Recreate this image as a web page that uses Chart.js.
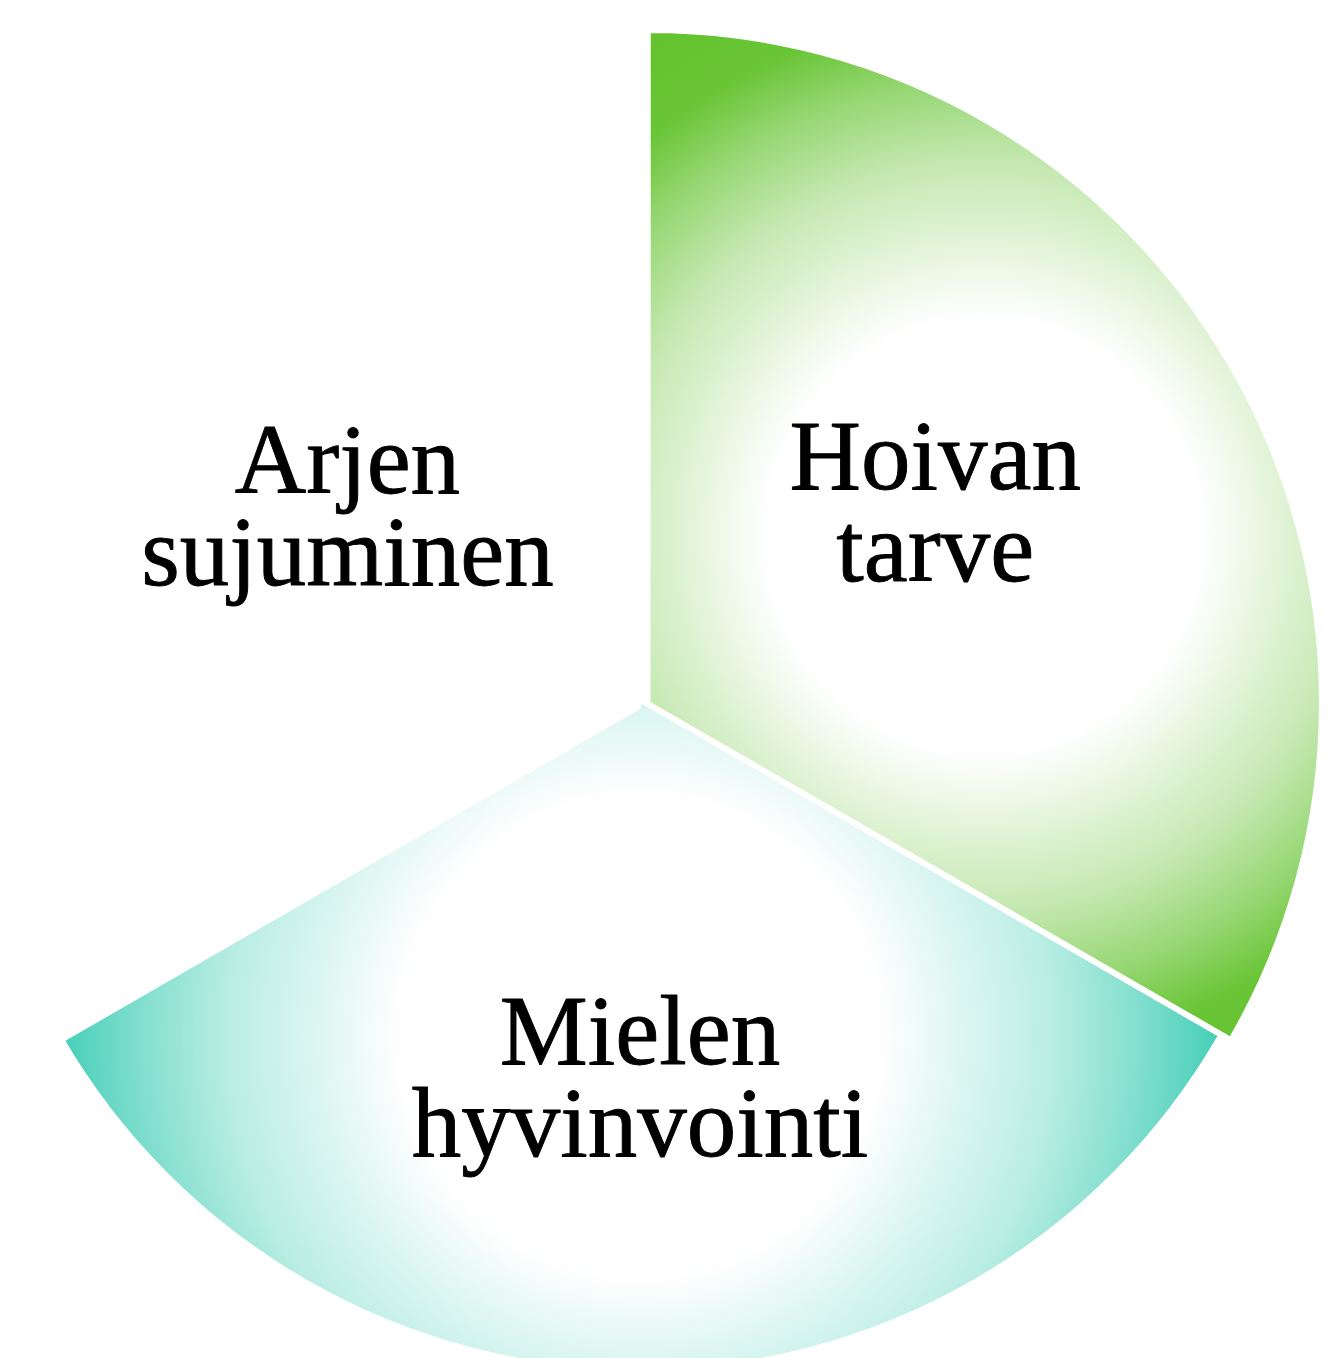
<!DOCTYPE html>
<html><head><meta charset="utf-8">
<script src="https://cdn.jsdelivr.net/npm/chart.js@4/dist/chart.umd.min.js"></script>
<style>
html,body{margin:0;padding:0;width:1337px;height:1358px;overflow:hidden;background:#fff;}
#wrap{position:absolute;left:-52px;top:16px;width:1384px;height:1384px;}
</style></head><body>
<div id="wrap"><canvas id="c"></canvas></div>
<script>
// Data
const categories = [['Hoivan', 'tarve'], ['Mielen', 'hyvinvointi'], ['Arjen', 'sujuminen']];
const values = [1, 1, 1];
const sliceColors = ['#62c22c', '#3ecdb4', '#ffffff'];

function mix(hex, t) {
  const n = parseInt(hex.slice(1), 16);
  const r = (n >> 16) & 255, g = (n >> 8) & 255, b = n & 255;
  const m = c => Math.round(255 + (c - 255) * t);
  return 'rgb(' + m(r) + ',' + m(g) + ',' + m(b) + ')';
}

function wedgeBox(x, y, R, a0, a1) {
  const pts = [[x, y], [x + R * Math.cos(a0), y + R * Math.sin(a0)], [x + R * Math.cos(a1), y + R * Math.sin(a1)]];
  for (let k = -4; k <= 8; k++) {
    const a = k * Math.PI / 2;
    if (a > a0 && a < a1) pts.push([x + R * Math.cos(a), y + R * Math.sin(a)]);
  }
  const xs = pts.map(p => p[0]), ys = pts.map(p => p[1]);
  return { x0: Math.min(...xs), x1: Math.max(...xs), y0: Math.min(...ys), y1: Math.max(...ys) };
}

const gradStops = [[0, 0], [0.36, 0], [0.5, 0.2], [0.62, 0.37], [0.75, 0.66], [0.86, 0.95], [1, 1]];

const gradientPlugin = {
  id: 'sliceGradients',
  beforeDatasetsDraw(chart) {
    const meta = chart.getDatasetMeta(0);
    const ctx = chart.ctx;
    meta.data.forEach((arc, i) => {
      const base = sliceColors[i];
      if (base.toLowerCase() === '#ffffff') return;
      const b = wedgeBox(arc.x, arc.y, arc.outerRadius, arc.startAngle, arc.endAngle);
      const gx = (b.x0 + b.x1) / 2, gy = (b.y0 + b.y1) / 2;
      const gr = Math.hypot((b.x1 - b.x0) / 2, (b.y1 - b.y0) / 2);
      const g = ctx.createRadialGradient(gx, gy, 0, gx, gy, gr);
      gradStops.forEach(s => g.addColorStop(s[0], mix(base, s[1])));
      arc.options.backgroundColor = g;
    });
  }
};

const labelPlugin = {
  id: 'sliceLabels',
  afterDatasetsDraw(chart) {
    const meta = chart.getDatasetMeta(0);
    const ctx = chart.ctx;
    const fracs = [0.5, 0.61, 0.505];
    const lh = 92;
    ctx.save();
    ctx.font = '99px "Liberation Serif"';
    ctx.fillStyle = '#000';
    ctx.strokeStyle = '#000';
    ctx.lineWidth = 0.9;
    ctx.lineJoin = 'round';
    ctx.textAlign = 'center';
    ctx.textBaseline = 'alphabetic';
    meta.data.forEach((arc, i) => {
      const half = (arc.startAngle + arc.endAngle) / 2;
      const off = (arc.options.offset || 0) / 4;
      const d = off + fracs[i] * arc.outerRadius;
      const x = arc.x + Math.cos(half) * d - (i === 0 ? 4 : 0);
      const y = arc.y + Math.sin(half) * d;
      const lines = categories[i];
      lines.forEach((t, k) => {
        const ty = y + (k - (lines.length - 1) / 2) * lh;
        ctx.fillText(t, x, ty);
        ctx.strokeText(t, x, ty);
      });
    });
    ctx.restore();
  }
};

new Chart(document.getElementById('c'), {
  type: 'pie',
  data: {
    labels: categories.map(c => c.join(' ')),
    datasets: [{
      data: values,
      backgroundColor: sliceColors,
      borderColor: '#ffffff',
      borderWidth: 2,
      offset: [44, -25, 0],
      hoverOffset: 0
    }]
  },
  options: {
    responsive: true,
    maintainAspectRatio: false,
    animation: false,
    events: [],
    layout: { padding: 0 },
    plugins: { legend: { display: false }, tooltip: { enabled: false } }
  },
  plugins: [gradientPlugin, labelPlugin]
});
</script>
</body></html>
